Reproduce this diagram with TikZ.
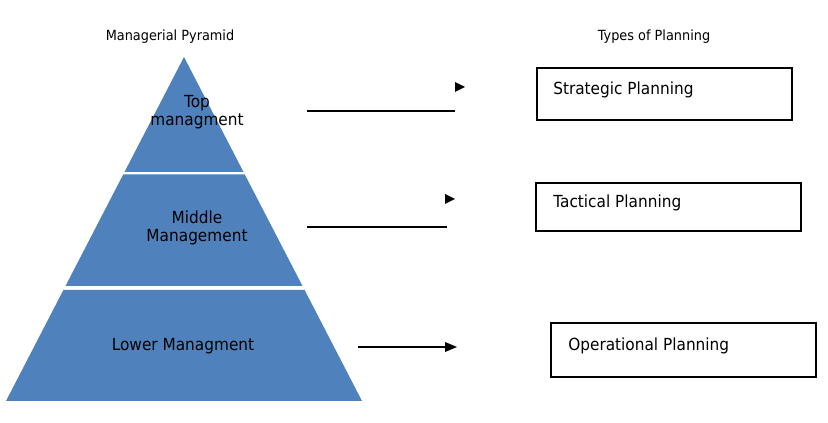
\documentclass[tikz,border=0pt]{standalone}
\usepackage{fontspec}
\setmainfont{DejaVu Sans}
\definecolor{pyr}{HTML}{4F81BD}
\begin{document}
\begin{tikzpicture}[x=0.75pt,y=-0.75pt,
  lbl/.style={font=\fontsize{10.5}{12}\selectfont\addfontfeatures{FakeStretch=0.92}},
  txt/.style={font=\fontsize{12.5}{14}\selectfont\addfontfeatures{FakeStretch=0.92},align=center,inner sep=0},
  pbox/.style={draw,thick,inner sep=0},
  ln/.style={line width=1.3pt},
  tip/.style={fill=black}]
\useasboundingbox (0,0) rectangle (828,423);
\fill[pyr] (184,57) -- (243.5,172) -- (124.5,172) -- cycle;
\fill[pyr] (123.2,174.5) -- (244.8,174.5) -- (302.5,286) -- (65.5,286) -- cycle;
\fill[pyr] (63.4,290) -- (304.6,290) -- (362,401) -- (6,401) -- cycle;
\node[lbl] (t1) at (170,37) {Managerial Pyramid};
\node[lbl] (t2) at (654,37) {Types of Planning};
\node[txt] (p1) at (197,112) {Top\\managment};
\node[txt] (p2) at (197,228) {Middle\\Management};
\node[txt] (p3) at (183,346) {Lower Managment};
\node[pbox,minimum width=255*0.75pt,minimum height=52*0.75pt] (b1) at (664.5,94) {};
\node[txt,anchor=west] at (553,90) {Strategic Planning};
\node[pbox,minimum width=265*0.75pt,minimum height=48*0.75pt] (b2) at (668.5,207) {};
\node[txt,anchor=west] at (553,203) {Tactical Planning};
\node[pbox,minimum width=265*0.75pt,minimum height=54*0.75pt] (b3) at (683.5,350) {};
\node[txt,anchor=west] at (568,346) {Operational Planning};
\coordinate (a1) at (307,111); \coordinate (a1e) at (455,111);
\coordinate (a2) at (307,227); \coordinate (a2e) at (447,227);
\coordinate (a3) at (358,347); \coordinate (a3e) at (447,347);
\draw[ln] (a1) -- (a1e);
\fill[tip] (455,82) -- (465,87) -- (455,92) -- cycle;
\draw[ln] (a2) -- (a2e);
\fill[tip] (445,194) -- (455,199) -- (445,204) -- cycle;
\draw[line width=1.1pt] (a3) -- (a3e);
\fill[tip] (445,342) -- (457,347) -- (445,352) -- cycle;
\end{tikzpicture}
\end{document}
